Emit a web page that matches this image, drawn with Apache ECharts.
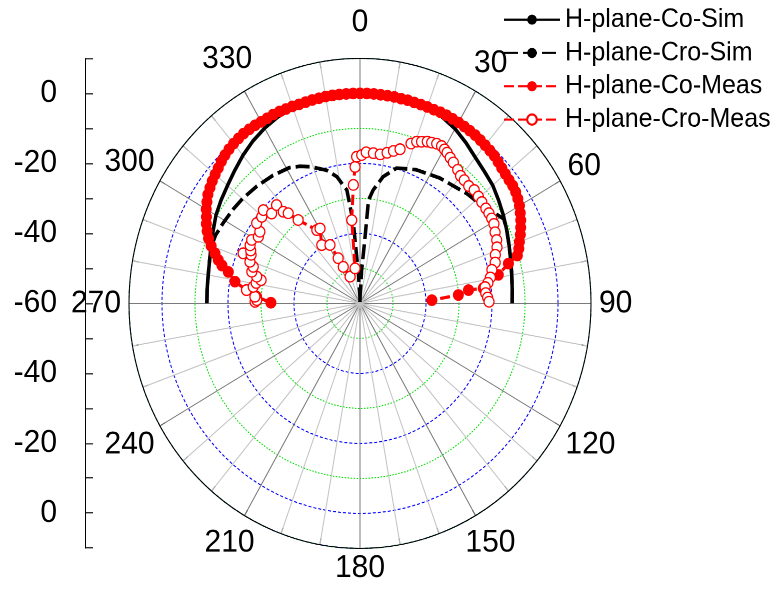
<!DOCTYPE html>
<html>
<head>
<meta charset="utf-8">
<script src="https://cdn.jsdelivr.net/npm/echarts/dist/echarts.min.js"></script>
<style>
  html { margin: 0; padding: 0; background: #fff; overflow: hidden; }
  body { margin: 0; padding: 0; background: #fff; width: 775px; height: 594px; }
  /* the original plot is a little taller than wide, so stretch it vertically */
  #chart { width: 775px; height: 560px; transform: scaleY(1.0607); transform-origin: 0 0; }
</style>
</head>
<body>
<div id="chart"></div>
<script>
// ---- data (angle in degrees, 0 = top, clockwise; level in dB) ----
const angleLabels = [0, 30, 60, 90, 120, 150, 180, 210, 240, 270, 300, 330];

const coSimAng = [-90, -85, -80, -75, -70, -65, -60, -55, -50, -45, -40, -35, -30, -25, -20, -15, -10, -5, 0,
  5, 10, 15, 20, 25, 30, 35, 40, 45, 50, 55, 60, 65, 70, 75, 80, 85, 90];
const coSimDb = [-13.6, -13.5, -13.3, -12.8, -12.0, -10.9, -9.6, -8.6, -7.6, -6.3, -4.8, -3.4, -2.2, -1.2, -0.6, -0.3, -0.1, 0, 0,
  0, -0.1, -0.3, -0.6, -1.2, -2.4, -4.0, -5.6, -6.7, -7.5, -8.7, -9.8, -10.9, -11.9, -12.7, -13.3, -13.7, -13.9];

const croSimAng = [-90, -85, -80, -75, -70, -66, -61, -55, -50, -43, -36, -29, -25, -21, -15, -11, -7, -5, -3.3, -1, 0,
  1, 3, 4.5, 5, 7, 11, 16, 24, 34, 46, 55, 58, 61, 65, 70, 75, 80, 85, 90];
const croSimDb = [-13.6, -13.5, -13.3, -12.8, -12.1, -12.1, -12.6, -13.1, -13.5, -14.2, -14.9, -15.7, -16.8, -18.2, -20.6, -23.1, -27.4, -37, -51.4, -58, -60,
  -58, -50.5, -42.8, -30.4, -27.4, -23.1, -19.8, -18.2, -16.8, -14.9, -13.2, -11.6, -10.2, -10.9, -11.9, -12.7, -13.3, -13.7, -13.9];

const coMeasAng = [-89.6, -86.5, -83.7, -80.7, -77.3, -75.5, -73.9,
  -72, -70, -68, -66, -64, -62, -60, -58, -56, -54, -52, -50, -48, -46, -44, -42, -40, -38, -36, -34, -32, -30,
  -28, -26, -24, -22, -20, -18, -16, -14, -12, -10, -8, -6, -4, -2, 0, 2, 4, 6, 8, 10, 12, 14, 16, 18, 20,
  22, 24, 26, 28, 30, 32, 34, 36, 38, 40, 42, 44, 46, 48, 50, 52, 54, 56, 58, 60, 62, 64, 66, 68, 70, 72, 74,
  75.8, 79, 83.4, 83.4, 85.4, 87.6];
const coMeasDb = [-33, -28.6, -25.4, -21.6, -19.1, -16.8, -15.3,
  -13.8, -12.0, -10.5, -9.3, -8.2, -7.3, -6.2, -5.3, -4.4, -3.8, -3.2, -2.7, -2.2, -1.6, -1.1, -0.7, -0.4, -0.2, 0, 0, 0, -0.1,
  -0.1, 0, 0, -0.1, -0.1, -0.2, -0.2, -0.1, -0.1, 0, 0, 0, 0, 0, 0, 0, 0, -0.1, -0.1, -0.1, -0.2, -0.2, -0.3, -0.3, -0.3,
  -0.3, -0.2, -0.2, -0.3, -0.3, -0.4, -0.5, -0.6, -0.8, -1.0, -1.2, -1.4, -1.8, -2.2, -2.5, -2.7, -2.8, -3.1, -3.6, -4.2, -5.0, -5.8, -6.7, -7.6, -8.6, -9.4, -10.4,
  -13.6, -17.3, -22.4, -26.9, -30.1, -38.2];

const croMeasAng = [-89.2, -88.3, -86.6, -83.7, -81.7, -79.5, -77.5, -76.3, -74.6, -72.1, -70.4, -68.0, -67.2, -65.5, -63.5,
  -61.1, -58.3, -56.0, -53.8, -50.3, -47.7, -46.2, -42.0, -41.6, -40.2, -38.2, -32, -29.5, -34.8, -28.6, -27.1, -25.9,
  -21.5, -8.5, -6, -3.4, -2.2, -1.4,
  0.7, 2.5, 5.4, 8.2, 10.8, 13.1, 15.4, 18.7, 20.4, 22, 23.8, 25.3, 27, 28.8, 30.2, 31.5, 33.3, 35.1, 37.8, 39.9, 41.9,
  44.5, 46.9, 49.6, 51.9, 54.6, 56.6, 58.7, 60.8, 63.6, 66.4, 68.9, 71.3, 74.1, 76.5, 79.4, 81.4, 83, 85.6, 87.5, 89.3];
const croMeasDb = [-28.2, -28.7, -28.1, -25.4, -27.3, -28.0, -29.3, -27.8, -26.0, -26.0, -24.6, -21.8, -24.2, -23.6, -22.8,
  -22.5, -23.8, -23.4, -21.2, -21.3, -20.4, -22.9, -22.2, -25.0, -26.3, -29.7, -35.3, -35.4, -39.7, -41.0, -45.5, -48.4,
  -51.8, -49.9, -36.1, -26.1, -21.0, -18.1,
  -17.6, -16.8, -16.9, -17.0, -16.2, -15.3, -14.3, -11.8, -10.7, -10.2, -9.5, -9.2, -8.8, -8.7, -9.1, -9.5, -10.2, -10.8, -11.7, -12.5, -12.7,
  -13.0, -12.6, -12.9, -13.1, -13.2, -13.2, -13.3, -13.5, -14.3, -14.8, -15.5, -16.7, -17.4, -18.9, -19.8, -20.8, -21.8, -21.8, -21.3, -20.9];

// ---- layout ----
const FONT = "'Liberation Sans', Arial, sans-serif";
const center = [360, 286];
const R = 231;
const dbMin = -60, dbMax = 10;
const labelSize = 30;

function toPolar(ang, db) {
  // polar data is [radius, angle]
  return ang.map((a, i) => [db[i], (a + 360) % 360]);
}

function renderAngleLabel(params, api) {
  const a = api.value(1);
  const p = api.coord([dbMax, a]);
  const c = api.coord([dbMin, a]);
  let dx = p[0] - c[0], dy = p[1] - c[1];
  const len = Math.hypot(dx, dy) || 1;
  dx /= len; dy /= len;
  const text = String(a);
  const w = text.length * 0.556 * labelSize;
  const h = 0.72 * labelSize;
  // labels above the plot sit a bit further out
  const d = 8 + Math.abs(dx) * w / 2 + Math.abs(dy) * h / 2 + Math.pow(Math.max(0, -dy), 8) * 15;
  return {
    type: 'text',
    x: p[0] + dx * d,
    y: p[1] + dy * d,
    style: {
      text: text, fill: '#000', fontSize: labelSize, fontFamily: FONT,
      align: 'center', verticalAlign: 'middle'
    }
  };
}

const chart = echarts.init(document.getElementById('chart'), null, { devicePixelRatio: 2 });

const option = {
  animation: false,
  backgroundColor: '#fff',
  legend: {
    orient: 'vertical',
    left: 498,
    top: 1,
    itemWidth: 56,
    itemHeight: 12,
    itemGap: 6.4,
    data: ['H-plane-Co-Sim', 'H-plane-Cro-Sim', 'H-plane-Co-Meas', 'H-plane-Cro-Meas'],
    textStyle: { fontSize: 25, lineHeight: 25, color: '#000', fontFamily: FONT }
  },
  // left straight dB scale
  grid: { left: 85, top: 55, width: 10, height: 461.7 },
  xAxis: { type: 'value', show: false, gridIndex: 0 },
  yAxis: {
    type: 'value', gridIndex: 0, min: -70, max: 70, interval: 10,
    axisLine: { show: true, lineStyle: { color: '#000', width: 1 } },
    axisTick: { show: true, inside: true, length: 8, lineStyle: { color: '#000' } },
    axisLabel: {
      margin: 28, fontSize: 30, color: '#000', fontFamily: FONT,
      formatter: v => (v % 20 === 0 ? String(Math.abs(v) - 60) : '')
    },
    splitLine: { show: false }
  },
  polar: [
    { center: center, radius: R },
    { center: center, radius: R }
  ],
  angleAxis: [
    {
      polarIndex: 0, type: 'value', min: 0, max: 360, interval: 10,
      startAngle: 90, clockwise: true, z: 1,
      axisLine: { show: true, lineStyle: { color: '#000', width: 1 } },
      axisTick: { show: true, inside: true, length: 6, lineStyle: { color: '#000' } },
      axisLabel: { show: false },
      splitLine: { show: true, lineStyle: { color: ['#7a7a7a', '#c4c4c4', '#c4c4c4'], width: 1 } }
    },
    {
      polarIndex: 1, type: 'value', min: 0, max: 360, startAngle: 90, clockwise: true,
      show: false
    }
  ],
  radiusAxis: [
    {
      // blue dashed rings at -40, -20, 0 dB
      polarIndex: 0, type: 'value', min: dbMin, max: dbMax, interval: 20, z: 0,
      axisLine: { show: false }, axisTick: { show: false }, axisLabel: { show: false },
      splitLine: { show: true, lineStyle: { color: '#0000ff', type: [3, 2], width: 1 } }
    },
    {
      // green dotted rings at -50, -30, -10 dB (every other ring transparent)
      polarIndex: 1, type: 'value', min: dbMin, max: dbMax, interval: 10, z: 0,
      axisLine: { show: false }, axisTick: { show: false }, axisLabel: { show: false },
      splitLine: { show: true, lineStyle: { color: ['rgba(0,0,0,0)', '#00e000'], type: [1.5, 1.5], width: 1 } }
    }
  ],
  series: [
    {
      name: 'H-plane-Co-Sim', type: 'line', coordinateSystem: 'polar', polarIndex: 0,
      symbol: 'none', color: '#000',
      lineStyle: { color: '#000', width: 3.5 },
      data: toPolar(coSimAng, coSimDb)
    },
    {
      name: 'H-plane-Cro-Sim', type: 'line', coordinateSystem: 'polar', polarIndex: 0,
      symbol: 'none', color: '#000',
      lineStyle: { color: '#000', width: 3.5, type: [14, 5] },
      data: toPolar(croSimAng, croSimDb)
    },
    {
      name: 'H-plane-Co-Meas', type: 'line', coordinateSystem: 'polar', polarIndex: 0,
      symbol: 'circle', symbolSize: 11, showAllSymbol: true, color: '#ff0000',
      itemStyle: { color: '#ff0000' },
      lineStyle: { color: '#ff0000', width: 3, type: [10, 4] },
      data: toPolar(coMeasAng, coMeasDb)
    },
    {
      name: 'H-plane-Cro-Meas', type: 'line', coordinateSystem: 'polar', polarIndex: 0,
      symbol: 'circle', symbolSize: 10, showAllSymbol: true, color: '#ff0000',
      itemStyle: { color: '#ffffff', borderColor: '#ff0000', borderWidth: 1.2 },
      lineStyle: { color: '#ff0000', width: 3, type: [10, 4] },
      data: toPolar(croMeasAng, croMeasDb)
    },
    {
      name: 'angleLabels', type: 'custom', coordinateSystem: 'polar', polarIndex: 0,
      silent: true, clip: false,
      renderItem: renderAngleLabel,
      data: angleLabels.map(a => [dbMax, a])
    }
  ]
};

chart.setOption(option);
</script>
</body>
</html>
